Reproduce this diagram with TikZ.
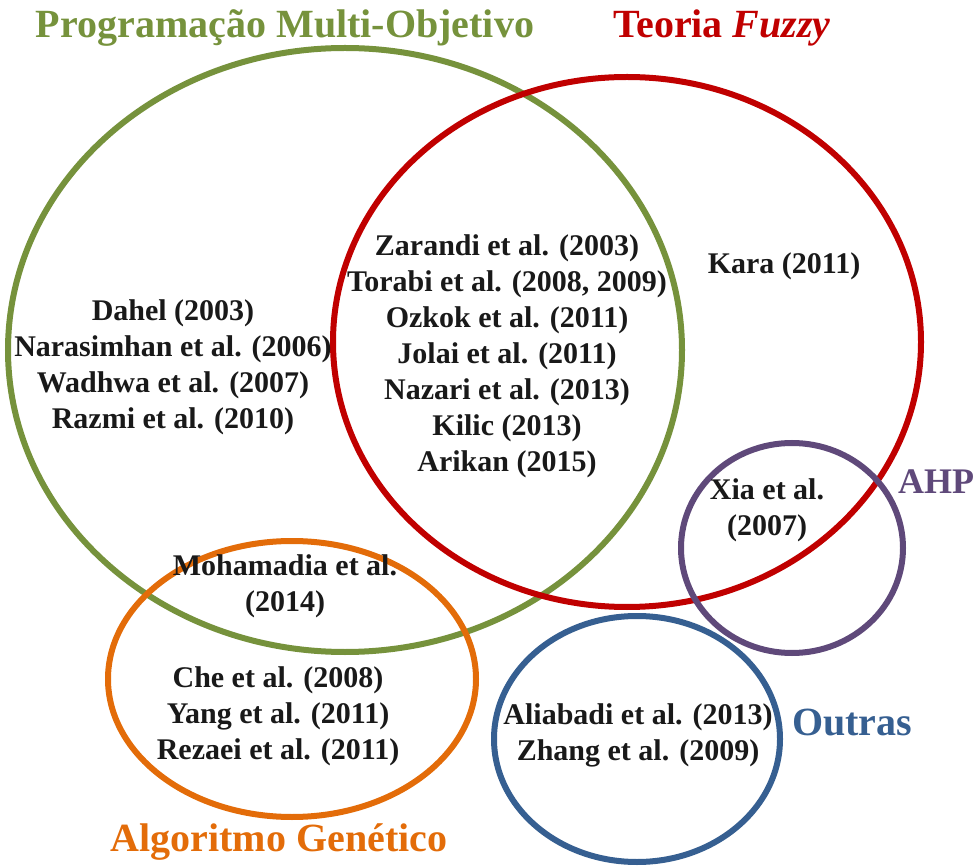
\documentclass[tikz,border=0pt]{standalone}
\usepackage{fontspec}
\setmainfont{Liberation Serif}
\begin{document}
\definecolor{cgreen}{HTML}{76923C}
\definecolor{cred}{HTML}{C00000}
\definecolor{corange}{HTML}{E36C09}
\definecolor{cpurple}{HTML}{5F497A}
\definecolor{cblue}{HTML}{365F91}
\begin{tikzpicture}[x=1pt,y=-1pt,
  ring/.style={line width=6pt},
  refs/.style={font=\fontsize{30}{36}\selectfont\bfseries, align=center, inner sep=0pt, text=black!90},
  title/.style={font=\fontsize{40}{44}\selectfont\bfseries, inner sep=0pt}]
\useasboundingbox (0,0) rectangle (975,866);
% sets
\draw[ring, cgreen] (345,350) ellipse [x radius=337, y radius=302];
\draw[ring, cred] (627,342) ellipse [x radius=294, y radius=265];
\draw[ring, corange] (292,679) ellipse [x radius=184, y radius=138];
\draw[ring, cpurple] (792,548) ellipse [x radius=111, y radius=105];
\draw[ring, cblue] (637,739) ellipse [x radius=143, y radius=123];
% set titles
\node[title, text=cgreen] (tmo) at (285,28) {Programação Multi-Objetivo};
\node[title, text=cred] (tfz) at (722,28) {Teoria \textit{Fuzzy}};
\node[title, text=cpurple, font=\fontsize{36}{40}\selectfont\bfseries] (tahp) at (936,482) {AHP};
\node[title, text=cblue] (tout) at (852,722) {Outras};
\node[title, text=corange] (tag) at (279,842) {Algoritmo Genético};
% references
\node[refs] (rmo) at (173,367) {Dahel (2003)\\Narasimhan et al. (2006)\\Wadhwa et al. (2007)\\Razmi et al. (2010)};
\node[refs] (rmofz) at (507,356) {Zarandi et al. (2003)\\Torabi et al. (2008, 2009)\\Ozkok et al. (2011)\\Jolai et al. (2011)\\Nazari et al. (2013)\\Kilic (2013)\\Arikan (2015)};
\node[refs] (rfz) at (784,266) {Kara (2011)};
\node[refs] (rahp) at (767,510) {Xia et al.\\(2007)};
\node[refs] (rmoag) at (285,586) {Mohamadia et al.\\(2014)};
\node[refs] (rag) at (278,716) {Che et al. (2008)\\Yang et al. (2011)\\Rezaei et al. (2011)};
\node[refs] (rout) at (638,735) {Aliabadi et al. (2013)\\Zhang et al. (2009)};
\end{tikzpicture}
\end{document}
